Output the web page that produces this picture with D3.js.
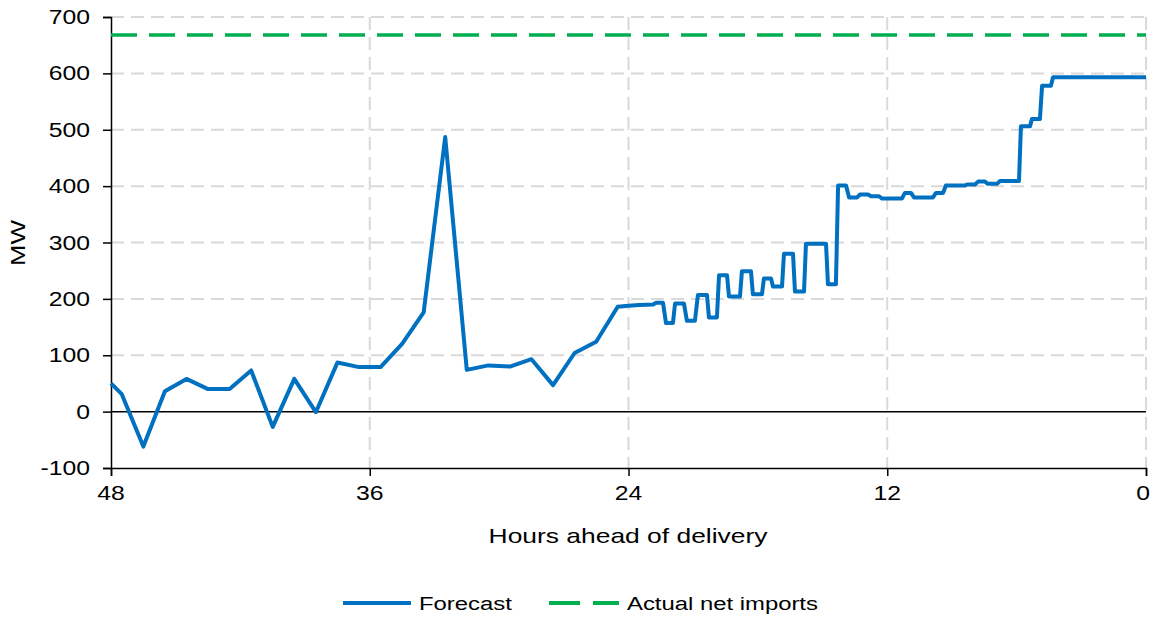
<!DOCTYPE html>
<html>
<head>
<meta charset="utf-8">
<script src="https://cdn.jsdelivr.net/npm/d3@7"></script>
<style>
  html, body { margin: 0; padding: 0; background: #fff; }
  svg { display: block; font-family: "Liberation Sans", Arial, sans-serif; }
</style>
</head>
<body>
<svg id="chart" width="1151" height="618"></svg>
<script>
// Forecast of net imports, by hours ahead of delivery (MW)
const hoursAhead = [
  48, 47.5, 46.5, 45.5, 44.5, 43.5, 42.5, 41.5, 40.5, 39.5, 38.5, 37.5, 36.5, 35.5,
  34.5, 33.5, 32.5, 31.5, 30.5, 29.5, 28.5, 27.5, 26.5, 25.5, 24.5, 24, 23.5,
  22.86, 22.72, 22.40, 22.26, 21.94, 21.84, 21.43, 21.29, 20.92, 20.78, 20.36,
  20.27, 19.90, 19.80, 19.43, 19.34, 18.83, 18.74, 18.32, 18.23, 17.81, 17.72,
  17.39, 17.30, 16.88, 16.79, 16.37, 16.28, 15.86, 15.77, 14.84, 14.75, 14.38,
  14.28, 13.91, 13.77, 13.40, 13.26, 12.89, 12.75, 12.38, 12.24, 11.32, 11.18,
  10.90, 10.76, 9.88, 9.74, 9.41, 9.28, 8.39, 8.30, 7.93, 7.79, 7.47, 7.33,
  6.91, 6.77, 5.89, 5.80, 5.38, 5.29, 4.92, 4.82, 4.41, 4.31, 0
];
const forecastMW = [
  50, 31, -62, 36, 58, 40, 40, 73, -27, 58, -1, 87, 79, 79,
  120, 176, 487, 74, 82, 80, 93, 47, 104, 124, 186, 188, 189,
  190, 193, 193, 157, 157, 192, 192, 161, 161, 207, 207,
  167, 167, 242, 242, 204, 204, 249, 249, 208, 208, 236,
  236, 222, 222, 280, 280, 213, 213, 298, 298, 226, 226,
  401, 401, 380, 380, 385, 385, 382, 382, 378, 378, 388,
  388, 380, 380, 388, 388, 401, 401, 403, 403, 408, 408, 404,
  404, 409, 409, 506, 506, 519, 519, 578, 578, 593, 593
];
const actualNetImportsMW = 668;

const xTicks = [48, 36, 24, 12, 0];
const yTicks = [-100, 0, 100, 200, 300, 400, 500, 600, 700];
const seriesNames = ["Forecast", "Actual net imports"];
const xTitle = "Hours ahead of delivery";
const yTitle = "MW";

const blue = "#0070c0", green = "#00b050", grid = "#d9d9d9";
const textScale = 1.27;

const svg = d3.select("#chart");
const x = d3.scaleLinear().domain([48, 0]).range([111, 1146]);
const y = d3.scaleLinear().domain([-100, 700]).range([468, 17]);

// text with a slightly widened face
function label(g, tx, ty, str, size, anchor, rotate) {
  return g.append("text")
    .attr("transform", `translate(${tx},${ty})` + (rotate ? ` rotate(${rotate})` : "") + ` scale(${textScale},1)`)
    .attr("text-anchor", anchor)
    .attr("font-size", size)
    .attr("fill", "#000")
    .text(str);
}

// gridlines
const gGrid = svg.append("g");
gGrid.selectAll("line.h").data(yTicks.filter(v => v > 0)).join("line")
  .attr("x1", x(48)).attr("x2", x(0))
  .attr("y1", d => y(d)).attr("y2", d => y(d))
  .attr("stroke", grid).attr("stroke-width", 2).attr("stroke-dasharray", "13,7");
gGrid.selectAll("line.v").data(xTicks.filter(v => v < 48)).join("line")
  .attr("x1", d => x(d)).attr("x2", d => x(d))
  .attr("y1", y(700)).attr("y2", y(-100))
  .attr("stroke", grid).attr("stroke-width", 2).attr("stroke-dasharray", "13,7");

// zero line
svg.append("line")
  .attr("x1", x(48)).attr("x2", x(0)).attr("y1", y(0)).attr("y2", y(0))
  .attr("stroke", "#000").attr("stroke-width", 1.5);

// axes
const yAxis = d3.axisLeft(y).tickValues(yTicks).tickSize(8).tickFormat("");
const xAxis = d3.axisBottom(x).tickValues(xTicks).tickSize(8).tickFormat("");
const gy = svg.append("g").attr("transform", `translate(${x(48)},0)`).call(yAxis);
const gx = svg.append("g").attr("transform", `translate(0,${y(-100)})`).call(xAxis);
[gx, gy].forEach(g => {
  g.select(".domain").attr("stroke", "#000").attr("stroke-width", 1.5);
  g.selectAll(".tick line").attr("stroke", "#000").attr("stroke-width", 1.5);
});

const gText = svg.append("g");
yTicks.forEach(v => label(gText, 90, y(v) + 7, String(v), 19.5, "end"));
// last x label is pulled in a touch so it stays inside the frame
xTicks.forEach(v => label(gText, Math.min(x(v), 1143), 500, String(v), 19.5, "middle"));
label(gText, 628, 543, xTitle, 20.8, "middle");
label(gText, 25, 243, yTitle, 20.5, "middle", -90);

// actual net imports
svg.append("line")
  .attr("x1", x(48)).attr("x2", x(0))
  .attr("y1", y(actualNetImportsMW)).attr("y2", y(actualNetImportsMW))
  .attr("stroke", green).attr("stroke-width", 3.5).attr("stroke-dasharray", "26,12");

// forecast
const pts = hoursAhead.map((h, i) => [h, forecastMW[i]]);
svg.append("path")
  .datum(pts)
  .attr("fill", "none")
  .attr("stroke", blue).attr("stroke-width", 4)
  .attr("stroke-linejoin", "round")
  .attr("d", d3.line().x(d => x(d[0])).y(d => y(d[1])));

// legend
const gLeg = svg.append("g");
gLeg.append("line").attr("x1", 343).attr("x2", 411).attr("y1", 603).attr("y2", 603)
  .attr("stroke", blue).attr("stroke-width", 4);
label(gLeg, 419, 610, seriesNames[0], 18.8, "start");
gLeg.append("line").attr("x1", 549).attr("x2", 619).attr("y1", 603).attr("y2", 603)
  .attr("stroke", green).attr("stroke-width", 4).attr("stroke-dasharray", "31,13");
label(gLeg, 627, 610, seriesNames[1], 18.8, "start");
</script>
</body>
</html>
